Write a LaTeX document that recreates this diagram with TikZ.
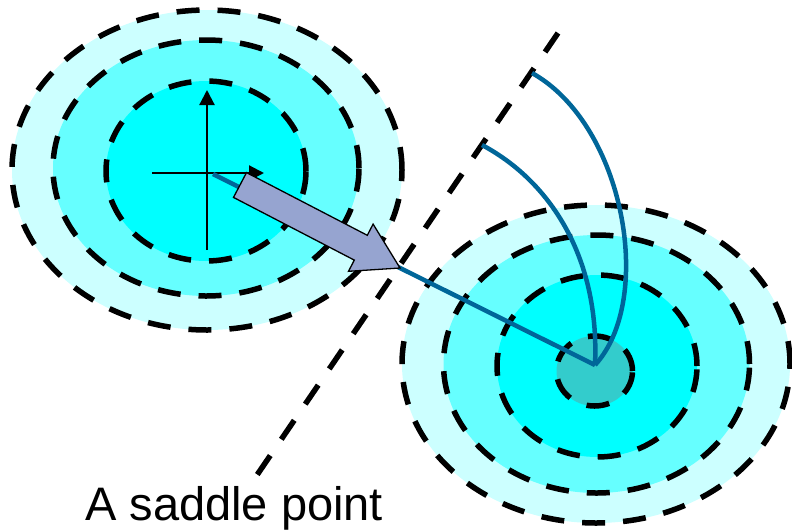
\documentclass[tikz,border=0pt]{standalone}
\usepackage{fontspec}
\setmainfont{Liberation Sans}
\usetikzlibrary{arrows.meta}
\definecolor{ringA}{HTML}{CCFFFF}
\definecolor{ringB}{HTML}{66FFFF}
\definecolor{ringC}{HTML}{00FFFF}
\definecolor{ringD}{HTML}{33CCCC}
\definecolor{pathblue}{HTML}{006699}
\definecolor{fatarrow}{RGB}{150,164,208}
\tikzset{
  ring/.style={draw=black, line width=5.5pt, dash pattern=on 23pt off 18pt},
  boundary/.style={draw=black, line width=5.5pt, dash pattern=on 23pt off 19.6pt},
  bluepath/.style={draw=pathblue, line width=4.5pt},
  axis/.style={draw=black, line width=2.2pt, -{Triangle[length=15pt,width=15pt]}},
}
\begin{document}
\begin{tikzpicture}[x=1pt,y=-1pt]
\useasboundingbox (0,0) rectangle (792,531);
% left basin
\fill[ringA] (207,170) ellipse [x radius=195pt, y radius=160pt];
\fill[ringB] (206,168) ellipse [x radius=153pt, y radius=128pt];
\fill[ringC] (206,171) ellipse [x radius=100pt, y radius=90pt];
\path[ring] (207,170) ellipse [x radius=195pt, y radius=160pt];
\path[ring] (206,168) ellipse [x radius=153pt, y radius=128pt];
\path[ring] (206,171) ellipse [x radius=100pt, y radius=90pt];
% axes
\coordinate (o) at (207,173);
\coordinate (ytop) at (207,90);
\coordinate (ybot) at (207,250);
\coordinate (xl) at (152,173);
\coordinate (xr) at (264,173);
\draw[axis] (ybot) -- (ytop);
\draw[axis] (xl) -- (xr);
% right basin
\fill[ringA] (596,364) ellipse [x radius=194pt, y radius=159pt];
\fill[ringB] (596.5,364) ellipse [x radius=153pt, y radius=129pt];
\fill[ringC] (597,366) ellipse [x radius=100pt, y radius=91pt];
\fill[ringD] (594.5,371) ellipse [x radius=38pt, y radius=35pt];
\path[ring] (596,364) ellipse [x radius=194pt, y radius=159pt];
\path[ring] (596.5,364) ellipse [x radius=153pt, y radius=129pt];
\path[ring] (597,366) ellipse [x radius=100pt, y radius=91pt];
\path[ring] (594.5,371) ellipse [x radius=38pt, y radius=35pt];
% saddle boundary
\coordinate (s1) at (558,33);
\coordinate (s2) at (257,475);
\path[boundary] (s1) -- (s2);
% paths
\coordinate (start) at (213,174);
\coordinate (saddle) at (400,268);
\coordinate (minB) at (595,365);
\coordinate (c1) at (482,145);
\coordinate (c2) at (532,73);
\path[bluepath] (start) -- (saddle) -- (minB);
\path[bluepath] (c1) .. controls (548,180) and (600,255) .. (minB);
\path[bluepath] (c2) .. controls (625,125) and (655,300) .. (minB);
% fat arrow
\filldraw[fill=fatarrow, draw=black, line width=1.3pt, line join=miter]
  (246.5,172.6) -- (367.3,235.3) -- (373.1,224.1) -- (saddle) -- (348.5,271.3) -- (354.3,260.1) -- (233.5,197.4) -- cycle;
% label
\node[anchor=base west, inner sep=0pt, font=\fontsize{47}{52}\selectfont] (lbl) at (85,520) {A saddle point};
\end{tikzpicture}
\end{document}
